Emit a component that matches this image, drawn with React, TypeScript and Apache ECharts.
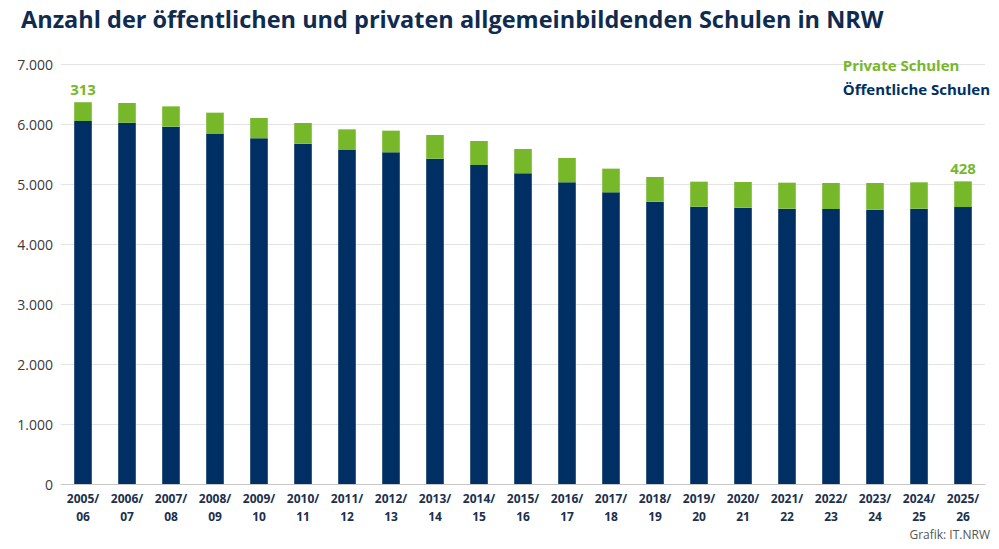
import React, { useEffect, useRef } from "react";
import * as echarts from "echarts";

const categories = [
  "2005/\n06", "2006/\n07", "2007/\n08", "2008/\n09", "2009/\n10", "2010/\n11", "2011/\n12",
  "2012/\n13", "2013/\n14", "2014/\n15", "2015/\n16", "2016/\n17", "2017/\n18", "2018/\n19",
  "2019/\n20", "2020/\n21", "2021/\n22", "2022/\n23", "2023/\n24", "2024/\n25", "2025/\n26",
];
const publicSchools = [
  6050, 6022, 5956, 5833, 5761, 5672, 5567, 5528, 5422, 5317, 5178, 5028, 4861, 4706, 4622,
  4606, 4589, 4583, 4572, 4589, 4616,
];
const privateSchools = [
  313, 328, 338, 356, 339, 345, 344, 361, 395, 400, 405, 405, 395, 411, 417, 427, 433, 434,
  445, 439, 428,
];
const labelledIndexes = [0, 20];

const NAVY = "#003063";
const GREEN = "#76b82a";
const FONT = "'Open Sans', 'Noto Sans', sans-serif";

export default function App() {
  const ref = useRef<HTMLDivElement>(null);
  useEffect(() => {
    if (!ref.current) return;
    const chart = echarts.init(ref.current, undefined, { renderer: "svg" });
    chart.setOption({
      animation: false,
      backgroundColor: "#ffffff",
      title: {
        text: "Anzahl der öffentlichen und privaten allgemeinbildenden Schulen in NRW",
        left: 16,
        top: 2,
        textStyle: { fontFamily: FONT, fontWeight: "bold", fontSize: 23.5, color: "#0f2b50" },
      },
      legend: {
        orient: "vertical",
        right: 4,
        top: 52,
        icon: "none",
        itemWidth: 0,
        itemGap: 9,
        selectedMode: false,
        data: [
          { name: "Private Schulen", textStyle: { color: GREEN } },
          { name: "Öffentliche Schulen", textStyle: { color: NAVY } },
        ],
        textStyle: { fontFamily: FONT, fontWeight: "bold", fontSize: 15 },
      },
      graphic: [
        {
          type: "text",
          right: 9,
          top: 528,
          style: { text: "Grafik: IT.NRW", fontFamily: FONT, fontSize: 12, fill: "#555" },
        },
      ],
      grid: { left: 61, right: 14, top: 64, bottom: 65, containLabel: false },
      xAxis: {
        type: "category",
        data: categories,
        axisTick: { show: false },
        axisLine: { lineStyle: { color: "#c8c8c8" } },
        axisLabel: {
          interval: 0,
          margin: 5,
          lineHeight: 18,
          fontFamily: FONT,
          fontWeight: "bold",
          fontSize: 12,
          color: "#1b2f4e",
        },
      },
      yAxis: {
        type: "value",
        min: 0,
        max: 7000,
        interval: 1000,
        axisLine: { show: false },
        axisTick: { show: false },
        splitLine: { lineStyle: { color: "#e3e3e3" } },
        axisLabel: {
          margin: 8,
          fontFamily: FONT,
          fontSize: 14,
          color: "#3a3a3a",
          formatter: (v: number) => v.toLocaleString("de-DE"),
        },
      },
      series: [
        {
          name: "Öffentliche Schulen",
          type: "bar",
          stack: "total",
          barWidth: "40%",
          itemStyle: { color: NAVY },
          data: publicSchools,
        },
        {
          name: "Private Schulen",
          type: "bar",
          stack: "total",
          barWidth: "40%",
          itemStyle: { color: GREEN },
          data: privateSchools.map((v, i) =>
            labelledIndexes.includes(i)
              ? {
                  value: v,
                  label: {
                    show: true,
                    position: "top",
                    distance: 6,
                    fontFamily: FONT,
                    fontWeight: "bold",
                    fontSize: 15,
                    color: GREEN,
                  },
                }
              : v
          ),
        },
      ],
    });
    return () => chart.dispose();
  }, []);
  return (
    <div
      ref={ref}
      style={{ position: "fixed", left: 0, top: 0, width: 999, height: 549 }}
    />
  );
}
